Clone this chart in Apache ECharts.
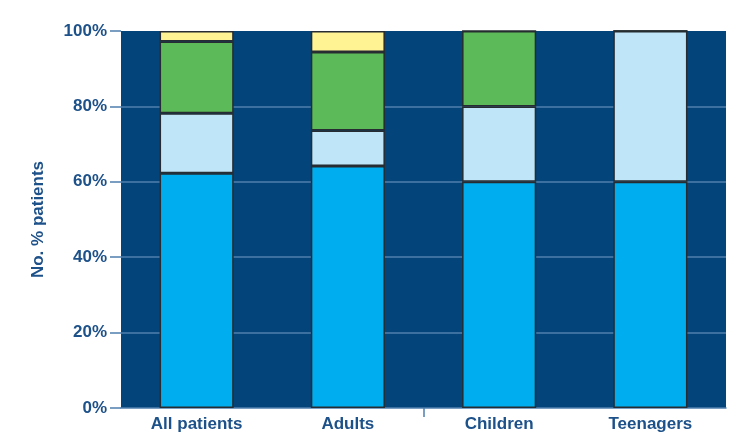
<!DOCTYPE html>
<html>
<head>
<meta charset="utf-8">
<script src="https://cdn.jsdelivr.net/npm/echarts@6/dist/echarts.min.js"></script>
<style>
  html, body { margin: 0; padding: 0; background: #ffffff; }
  #chart { width: 741px; height: 433px; }
</style>
</head>
<body>
<div id="chart"></div>
<script>
// Patient groups on the x axis
const categories = ['All patients', 'Adults', 'Children', 'Teenagers'];
// Stacked shares (% of patients) per group, bottom to top
const seriesA = [62.3, 64.2, 60, 60];
const seriesB = [15.9, 9.4, 20, 40];
const seriesC = [19.0, 20.8, 20, 0];
const seriesD = [2.8, 5.6, 0, 0];
const yTicks = [0, 20, 40, 60, 80, 100];
// Single divider tick under the axis, between Adults and Children
const dividerTicks = [2];

const textColor = '#1d5189';
const lineColor = '#4f7fae';
const borderDark = '#262c31';
const font = 'Liberation Sans, Arial, sans-serif';

function stackSeries(name, data, color) {
  return {
    name: name,
    type: 'bar',
    stack: 'total',
    data: data,
    barWidth: '49%',
    itemStyle: { color: color, borderColor: borderDark, borderWidth: 1.5 },
    emphasis: { disabled: true }
  };
}

const chart = echarts.init(document.getElementById('chart'), null, { renderer: 'canvas' });
chart.setOption({
  animation: false,
  backgroundColor: '#ffffff',
  grid: {
    left: 121, right: 15, top: 31, bottom: 24,
    show: true, backgroundColor: '#03447b', borderWidth: 0
  },
  xAxis: [
    {
      type: 'category',
      data: categories,
      axisLine: { show: true, lineStyle: { color: lineColor, width: 1.5 } },
      axisTick: { show: false },
      axisLabel: {
        margin: 8, color: textColor, fontSize: 17, fontWeight: 'bold', fontFamily: font
      }
    },
    {
      type: 'value',
      position: 'bottom',
      min: 0, max: categories.length,
      axisLine: { show: false },
      axisLabel: { show: false },
      splitLine: { show: false },
      axisTick: {
        show: true, length: 9, customValues: dividerTicks,
        lineStyle: { color: lineColor, width: 1.5 }
      }
    }
  ],
  yAxis: {
    type: 'value',
    min: yTicks[0], max: yTicks[yTicks.length - 1], interval: 20,
    name: 'No. % patients',
    nameLocation: 'middle',
    nameGap: 74,
    nameRotate: 90,
    nameTextStyle: { color: textColor, fontSize: 17, fontWeight: 'bold', fontFamily: font },
    axisLine: { show: false },
    axisTick: { show: true, length: 11, lineStyle: { color: lineColor, width: 1.5 } },
    axisLabel: {
      margin: 14, color: textColor, fontSize: 17, fontWeight: 'bold', fontFamily: font,
      formatter: function (v) { return v + '%'; }
    },
    splitLine: {
      show: true,
      lineStyle: { color: lineColor, width: 1.5 },
      showMaxLine: false, showMinLine: false
    }
  },
  series: [
    stackSeries('A', seriesA, '#00aeef'),
    stackSeries('B', seriesB, '#bee6f8'),
    stackSeries('C', seriesC, '#5cba58'),
    stackSeries('D', seriesD, '#fff394')
  ]
});
</script>
</body>
</html>
